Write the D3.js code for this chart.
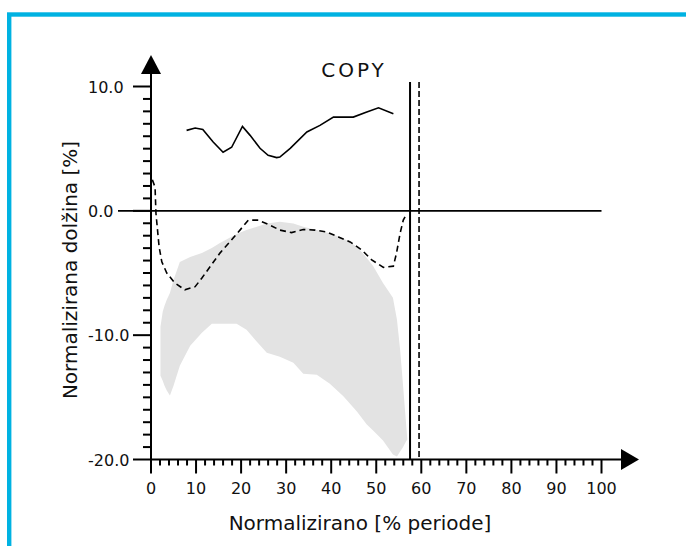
<!DOCTYPE html>
<html>
<head>
<meta charset="utf-8">
<script src="https://cdn.jsdelivr.net/npm/d3@7"></script>
<style>
    body { margin: 0; background: #ffffff; }
    svg text { font-family: "DejaVu Sans", sans-serif; fill: #111; }
</style>
</head>
<body>
<div class="jumbotron"></div>
<script>
// chart values
var xTicks = [0, 10, 20, 30, 40, 50, 60, 70, 80, 90, 100];
var yTicks = [-20, -10, 0, 10];
var yTickLabels = ["-20.0", "-10.0", "0.0", "10.0"];

// solid curve (top)
var copyX = [7.9, 9.8, 11.5, 13.8, 16.0, 17.9, 20.3, 22.0, 24.2, 26.0, 27.9, 28.6, 30.9, 34.6, 37.5, 40.5, 44.9, 47.9, 50.5, 53.8];
var copyY = [6.47, 6.66, 6.55, 5.53, 4.71, 5.11, 6.79, 6.07, 5.03, 4.47, 4.28, 4.33, 5.03, 6.34, 6.87, 7.54, 7.54, 7.94, 8.29, 7.81];

// dashed curve
var dashX = [0.3, 0.9, 1.1, 1.8, 2.4, 3.5, 5.3, 7.5, 9.8, 11.3, 13.1, 15.3, 17.5, 19.4, 21.6, 23.8, 26.4, 28.6, 31.2, 33.8, 36.4, 39.0, 41.6, 44.2, 46.8, 49.0, 51.6, 53.8, 54.5, 55.3, 56.0, 56.8];
var dashY = [2.5, 1.9, -0.2, -2.9, -4.1, -5.0, -5.8, -6.35, -6.1, -5.4, -4.5, -3.4, -2.5, -1.7, -0.75, -0.75, -1.15, -1.55, -1.75, -1.5, -1.55, -1.7, -2.1, -2.5, -3.15, -3.95, -4.55, -4.45, -3.4, -1.8, -0.75, -0.2];

// grey normal band
var bandX = [2.1, 2.6, 3, 3.5, 4.2, 5, 6.4, 8.7, 11.3, 13.5, 15.3, 19, 21.2, 23.5, 25.7, 28.6, 31.6, 33.8, 36.8, 39.7, 42.7, 45.7, 47.9, 49.3, 51.5, 53.7, 54.6, 55.3, 55.9, 56.6, 56.9];
var bandUpper = [-9.33, -8.12, -7.64, -7.16, -6.6, -5.56, -4.11, -3.71, -3.39, -2.99, -2.59, -1.87, -1.55, -1.28, -1.01, -0.88, -1.01, -1.28, -1.55, -1.81, -2.21, -2.89, -3.79, -4.43, -5.8, -7.0, -8.77, -11.17, -13.82, -17.03, -18.39];
var bandLower = [-13.26, -13.66, -14.06, -14.46, -14.86, -14.06, -12.46, -10.86, -9.81, -9.08, -9.08, -9.08, -9.56, -10.53, -11.41, -11.73, -12.21, -13.1, -13.18, -13.9, -14.92, -16.14, -17.18, -17.67, -18.47, -19.59, -19.75, -19.35, -19.03, -18.55, -18.39];

// vertical markers
var solidMarker = 57.5;
var dashMarker = 59.5;

function drawChart() {
    var body = d3.select(".jumbotron");

    var width = 686;
    var height = 546;

    var svg = body.append("svg")
        .attr("width", width)
        .attr("height", height);

    var x = d3.scaleLinear().domain([0, 100]).range([151, 601.5]);
    var y = d3.scaleLinear().domain([-20, 10]).range([459.5, 86.5]);

    /*****************  Frame **********************/

    svg.append("rect")
        .attr("x", 9.2)
        .attr("y", 14.5)
        .attr("width", 720)
        .attr("height", 600)
        .style("fill", "#ffffff")
        .style("stroke", "#00b2e2")
        .style("stroke-width", 4.4);

    /*****************  Band **********************/

    var band = bandX.map(function (d, i) {
        return {x: d, lo: bandLower[i], hi: bandUpper[i]};
    });

    svg.append("path")
        .datum(band)
        .attr("d", d3.area()
            .x(function (d) { return x(d.x); })
            .y0(function (d) { return y(d.lo); })
            .y1(function (d) { return y(d.hi); }))
        .style("fill", "#e3e3e3")
        .style("stroke", "none");

    /*****************  Zero line **********************/

    svg.append("line")
        .attr("x1", 118)
        .attr("x2", x(100))
        .attr("y1", y(0))
        .attr("y2", y(0))
        .style("stroke", "#000")
        .style("stroke-width", 1.6);

    /*****************  Vertical markers **********************/

    svg.append("line")
        .attr("x1", x(solidMarker)).attr("x2", x(solidMarker))
        .attr("y1", 82).attr("y2", y(-20))
        .style("stroke", "#000")
        .style("stroke-width", 2);

    svg.append("line")
        .attr("x1", x(dashMarker)).attr("x2", x(dashMarker))
        .attr("y1", 82).attr("y2", y(-20))
        .style("stroke", "#000")
        .style("stroke-width", 1.6)
        .style("stroke-dasharray", "6,3");

    /*****************  Curves **********************/

    var line = d3.line()
        .x(function (d) { return x(d[0]); })
        .y(function (d) { return y(d[1]); });

    svg.append("path")
        .datum(dashX.map(function (d, i) { return [d, dashY[i]]; }))
        .attr("d", line)
        .style("fill", "none")
        .style("stroke", "#000")
        .style("stroke-width", 1.6)
        .style("stroke-dasharray", "6,4");

    svg.append("path")
        .datum(copyX.map(function (d, i) { return [d, copyY[i]]; }))
        .attr("d", line)
        .style("fill", "none")
        .style("stroke", "#000")
        .style("stroke-width", 1.6);

    /*****************  Y axis **********************/

    svg.append("line")
        .attr("x1", x(0)).attr("x2", x(0))
        .attr("y1", y(-20)).attr("y2", 74)
        .style("stroke", "#000")
        .style("stroke-width", 2);

    svg.append("path")
        .attr("d", "M" + (x(0) - 10) + ",74L" + (x(0) + 10) + ",74L" + x(0) + ",55Z")
        .style("fill", "#000");

    svg.selectAll(".yminor")
        .data(d3.range(-20, 11, 1))
        .enter()
        .append("line")
        .attr("class", "yminor")
        .attr("x1", function (d) { return d % 10 === 0 ? x(0) - 18 : x(0) - 8; })
        .attr("x2", x(0))
        .attr("y1", function (d) { return y(d); })
        .attr("y2", function (d) { return y(d); })
        .style("stroke", "#000")
        .style("stroke-width", 2);

    // labels sit flush left, like the original
    svg.selectAll(".ylabel")
        .data(yTicks)
        .enter()
        .append("text")
        .attr("class", "ylabel")
        .attr("x", 88)
        .attr("y", function (d) { return y(d) + 6; })
        .attr("text-anchor", "start")
        .style("font-size", "16px")
        .text(function (d, i) { return yTickLabels[i]; });

    /*****************  X axis **********************/

    svg.append("line")
        .attr("x1", x(0)).attr("x2", 622)
        .attr("y1", y(-20)).attr("y2", y(-20))
        .style("stroke", "#000")
        .style("stroke-width", 2);

    svg.append("path")
        .attr("d", "M621," + (y(-20) - 10.5) + "L621," + (y(-20) + 10.5) + "L639," + y(-20) + "Z")
        .style("fill", "#000");

    svg.selectAll(".xminor")
        .data(d3.range(0, 101, 2))
        .enter()
        .append("line")
        .attr("class", "xminor")
        .attr("x1", function (d) { return x(d); })
        .attr("x2", function (d) { return x(d); })
        .attr("y1", y(-20))
        .attr("y2", function (d) { return d % 10 === 0 ? y(-20) + 14 : y(-20) + 6; })
        .style("stroke", "#000")
        .style("stroke-width", 2);

    svg.selectAll(".xlabel")
        .data(xTicks)
        .enter()
        .append("text")
        .attr("class", "xlabel")
        .attr("x", function (d) { return x(d); })
        .attr("y", 493.5)
        .attr("text-anchor", "middle")
        .style("font-size", "16px")
        .text(function (d) { return d; });

    /*****************  Titles **********************/

    svg.append("text")
        .attr("x", 360)
        .attr("y", 529.5)
        .attr("text-anchor", "middle")
        .style("font-size", "20px")
        .text("Normalizirano [% periode]");

    svg.append("text")
        .attr("transform", "translate(77,270) rotate(-90)")
        .attr("text-anchor", "middle")
        .style("font-size", "20px")
        .text("Normalizirana dolžina [%]");

    svg.append("text")
        .attr("x", 354)
        .attr("y", 77)
        .attr("text-anchor", "middle")
        .style("font-size", "20px")
        .style("letter-spacing", "3px")
        .text("COPY");
}

drawChart();
</script>
</body>
</html>
